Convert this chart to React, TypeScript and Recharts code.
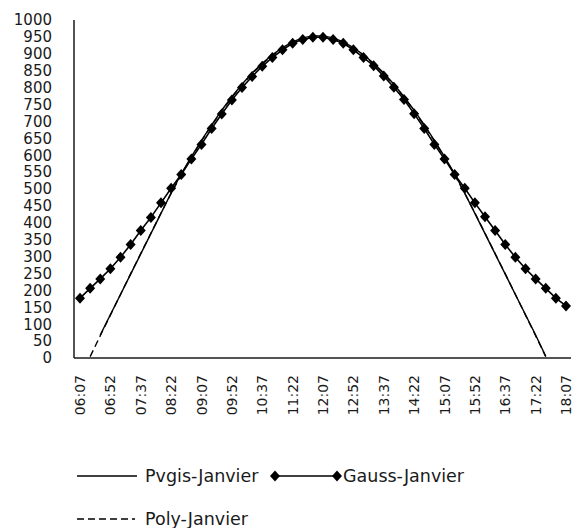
import { Line, LineChart, XAxis, YAxis } from "recharts";

// 15-minute steps, a label every third step
const times = [
  "06:07", "06:22", "06:37", "06:52", "07:07", "07:22", "07:37", "07:52", "08:07", "08:22",
  "08:37", "08:52", "09:07", "09:22", "09:37", "09:52", "10:07", "10:22", "10:37", "10:52",
  "11:07", "11:22", "11:37", "11:52", "12:07", "12:22", "12:37", "12:52", "13:07", "13:22",
  "13:37", "13:52", "14:07", "14:22", "14:37", "14:52", "15:07", "15:22", "15:37", "15:52",
  "16:07", "16:22", "16:37", "16:52", "17:07", "17:22", "17:37", "17:52", "18:07",
];

const pvgisJanvier = [
  null, null, 68, 128, 188, 248, 308, 368, 428, 488,
  545, 596, 644, 690, 733, 773, 810, 843, 872, 897,
  918, 935, 947, 953, 953, 947, 935, 918, 897, 872,
  843, 810, 773, 733, 690, 644, 596, 545, 488, 428,
  368, 308, 248, 188, 128, 68, 5, null, null,
];

const gaussJanvier = [
  177, 206, 234, 264, 298, 336, 377, 416, 459, 502,
  543, 589, 632, 679, 722, 763, 800, 833, 863, 889,
  912, 931, 942, 949, 949, 942, 931, 912, 889, 865,
  834, 801, 765, 723, 679, 632, 589, 543, 502, 459,
  418, 377, 336, 298, 264, 234, 206, 177, 154,
];

const polyJanvier = [
  null, 4, 66, 127, 188, 249, 309, 369, 429, 487,
  542, 594, 642, 688, 731, 771, 808, 841, 870, 895,
  916, 932, 943, 949, 949, 943, 932, 916, 895, 870,
  841, 808, 771, 731, 688, 642, 594, 542, 487, 429,
  369, 309, 249, 188, 127, 66, 4, null, null,
];

const yTicks = [
  0, 50, 100, 150, 200, 250, 300, 350, 400, 450, 500,
  550, 600, 650, 700, 750, 800, 850, 900, 950, 1000,
];

const data = times.map((time, i) => ({
  time,
  pvgis: pvgisJanvier[i],
  gauss: gaussJanvier[i],
  poly: polyJanvier[i],
}));

const FONT = "'DejaVu Sans', sans-serif";
const INK = "#1a1a1a";
const DASH = "7 4";

function TimeTick({ x, y, payload }: any) {
  return (
    <g transform={`translate(${x},${y})`}>
      <text
        transform="rotate(-90)"
        textAnchor="end"
        dy="0.36em"
        fontSize={14}
        fontFamily={FONT}
        fill={INK}
      >
        {payload.value}
      </text>
    </g>
  );
}

function diamond(cx: number, cy: number, key?: number | string) {
  return (
    <polygon
      key={key}
      points={`${cx},${cy - 5.5} ${cx + 5},${cy} ${cx},${cy + 5.5} ${cx - 5},${cy}`}
      fill="#000"
    />
  );
}

function GaussDot(props: any) {
  const { cx, cy, index } = props;
  if (cx == null || cy == null) return <g key={index} />;
  return diamond(cx, cy, index);
}

function ChartLegend() {
  return (
    <svg
      width={576}
      height={80}
      style={{ position: "absolute", left: 0, top: 448 }}
    >
      <g fontFamily={FONT} fontSize={17.5} fill={INK}>
        <line x1={77} y1={28} x2={137} y2={28} stroke="#000" strokeWidth={1.4} />
        <text x={145} y={28} dy="0.36em">Pvgis-Janvier</text>
        <line x1={275} y1={28} x2={337} y2={28} stroke="#000" strokeWidth={1.6} />
        {diamond(275, 28)}
        {diamond(337, 28)}
        <text x={343} y={28} dy="0.36em">Gauss-Janvier</text>
        <line
          x1={77}
          y1={71}
          x2={135}
          y2={71}
          stroke="#000"
          strokeWidth={1.4}
          strokeDasharray={DASH}
        />
        <text x={145} y={71} dy="0.36em">Poly-Janvier</text>
      </g>
    </svg>
  );
}

export default function App() {
  return (
    <div style={{ position: "absolute", left: 0, top: 0, width: 576, height: 528, background: "#fff" }}>
      <LineChart
        width={576}
        height={528}
        data={data}
        margin={{ top: 20, right: 5, left: 0, bottom: 100 }}
      >
        <XAxis
          dataKey="time"
          interval={2}
          height={70}
          tickLine={false}
          tickSize={0}
          tickMargin={17}
          padding={{ left: 6, right: 5 }}
          axisLine={{ stroke: INK, strokeWidth: 1.5 }}
          tick={<TimeTick />}
        />
        <YAxis
          domain={[0, 1000]}
          ticks={yTicks}
          interval={0}
          width={74}
          tickLine={false}
          tickSize={0}
          tickMargin={22}
          axisLine={{ stroke: INK, strokeWidth: 1.5 }}
          tick={{ fontSize: 15, fill: INK, fontFamily: FONT }}
        />
        <Line
          dataKey="poly"
          name="Poly-Janvier"
          type="linear"
          stroke="#000"
          strokeWidth={1.4}
          strokeDasharray={DASH}
          dot={false}
          activeDot={false}
          isAnimationActive={false}
        />
        <Line
          dataKey="pvgis"
          name="Pvgis-Janvier"
          type="linear"
          stroke="#000"
          strokeWidth={1.4}
          dot={false}
          activeDot={false}
          isAnimationActive={false}
        />
        <Line
          dataKey="gauss"
          name="Gauss-Janvier"
          type="linear"
          stroke="#000"
          strokeWidth={1.6}
          dot={(p: any) => <GaussDot key={p.index} {...p} />}
          activeDot={false}
          isAnimationActive={false}
        />
      </LineChart>
      <ChartLegend />
    </div>
  );
}
